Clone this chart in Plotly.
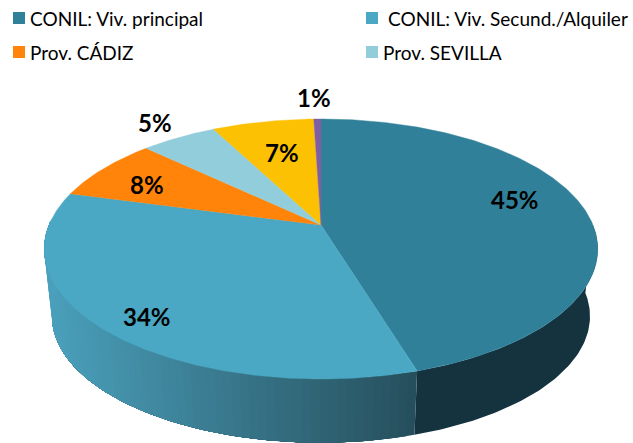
import math
import plotly.graph_objects as go

# --- data ---
categories = ["CONIL: Viv. principal", "CONIL: Viv. Secund./Alquiler", "Prov. CÁDIZ",
              "Prov. SEVILLA", "Otras provincias", "Otros"]
values = [45.3, 33.9, 7.9, 5.3, 7.1, 0.5]
labels = ["45%", "34%", "8%", "5%", "7%", "1%"]
colors = ["#31809A", "#4AA8C4", "#FF8409", "#92CDDC", "#FDC104", "#7F5FA3"]
label_pos = [(515, 199), (147, 316), (147, 184), (155, 122), (282, 152), (314, 97)]

legend_names = categories[:4]
legend_text_x = [28, 386, 28, 381]
legend_swatch_x = [19, 372, 19, 372]
legend_y = [18, 18, 52, 52]
legend_colors = ["#31809A", "#4AA8C4", "#FF8409", "#92CDDC"]

W, H = 633, 443
CX, CY = 321, 225     # apex of the pie on screen
A, B, K = 272, 125.6, 0.1846   # perspective pie projection
DEPTH = 68
SHRINK = 0.972


def rim(theta_deg, lower=False):
    t = math.radians(theta_deg)
    u, v = math.cos(t), math.sin(t)
    d = 1 + K * u
    s = SHRINK if lower else 1.0
    x = CX + s * A * v / d
    y = CY - s * B * u / d + (DEPTH if lower else 0)
    return x, y


def mix(c1, c2, f):
    a = [int(c1[i:i + 2], 16) for i in (1, 3, 5)]
    b = [int(c2[i:i + 2], 16) for i in (1, 3, 5)]
    return "rgb(%d,%d,%d)" % tuple(round(p + (q - p) * f) for p, q in zip(a, b))


fig = go.Figure()

total = sum(values)
bounds = [0.0]
for val in values:
    bounds.append(bounds[-1] + val / total * 360)


def wall(t0, t1, color):
    n = max(2, int(abs(t1 - t0)) + 2)
    ts = [t0 + (t1 - t0) * i / (n - 1) for i in range(n)]
    pts = [rim(t) for t in ts] + [rim(t, True) for t in reversed(ts)]
    fig.add_trace(go.Scatter(x=[p[0] for p in pts], y=[p[1] for p in pts], mode="lines",
                             fill="toself", fillcolor=color, line=dict(width=0),
                             hoverinfo="skip", showlegend=False))


# side wall: 45 % slice, flat dark
wall(90, bounds[1], "#14333F")
# side wall: 34 % slice, horizontal gradient; each strip overlaps the rest, so no seams
STEPS = 70
t_start, t_end = bounds[1], 272
x_l, x_r = rim(t_end)[0], rim(t_start)[0]
for i in range(STEPS):
    a0 = t_start + (t_end - t_start) * i / STEPS
    a1 = t_start + (t_end - t_start) * (i + 1) / STEPS
    f = (rim((a0 + a1) / 2)[0] - x_l) / (x_r - x_l)
    wall(a0, t_end, mix("#4A9FBA", "#264E5C", f))

# top face
for i, name in enumerate(categories):
    n = max(2, int(bounds[i + 1] - bounds[i]) * 2 + 2)
    ts = [bounds[i] + (bounds[i + 1] - bounds[i]) * j / (n - 1) for j in range(n)]
    pts = [(CX, CY)] + [rim(t) for t in ts] + [(CX, CY)]
    fig.add_trace(go.Scatter(x=[p[0] for p in pts], y=[p[1] for p in pts], mode="lines",
                             fill="toself", fillcolor=colors[i], line=dict(width=0.4, color=colors[i]),
                             name=name, text=labels[i], hoverinfo="name+text", showlegend=False))

# legend swatches
fig.add_trace(go.Scatter(x=legend_swatch_x, y=legend_y, mode="markers",
                         marker=dict(symbol="square", size=12, color=legend_colors),
                         hoverinfo="skip", showlegend=False))

annotations = []
for name, x, y in zip(legend_names, legend_text_x, legend_y):
    annotations.append(dict(x=x, y=y, text=name, xanchor="left", yanchor="middle", showarrow=False,
                            xref="x", yref="y", font=dict(family="Lato", size=19, color="#000000")))
for txt, (x, y) in zip(labels, label_pos):
    annotations.append(dict(x=x, y=y, text="<b>%s</b>" % txt, xanchor="center", yanchor="middle",
                            showarrow=False, xref="x", yref="y",
                            font=dict(family="Lato", size=24, color="#000000")))

fig.update_layout(
    width=W, height=H, margin=dict(l=0, r=0, t=0, b=0),
    paper_bgcolor="white", plot_bgcolor="white", showlegend=False,
    xaxis=dict(range=[0, W], visible=False, fixedrange=True),
    yaxis=dict(range=[H, 0], visible=False, fixedrange=True),
    annotations=annotations,
)
fig.write_html("out.html", config={"displayModeBar": False},
               post_script="document.body.style.margin='0';document.body.style.overflow='hidden';")
